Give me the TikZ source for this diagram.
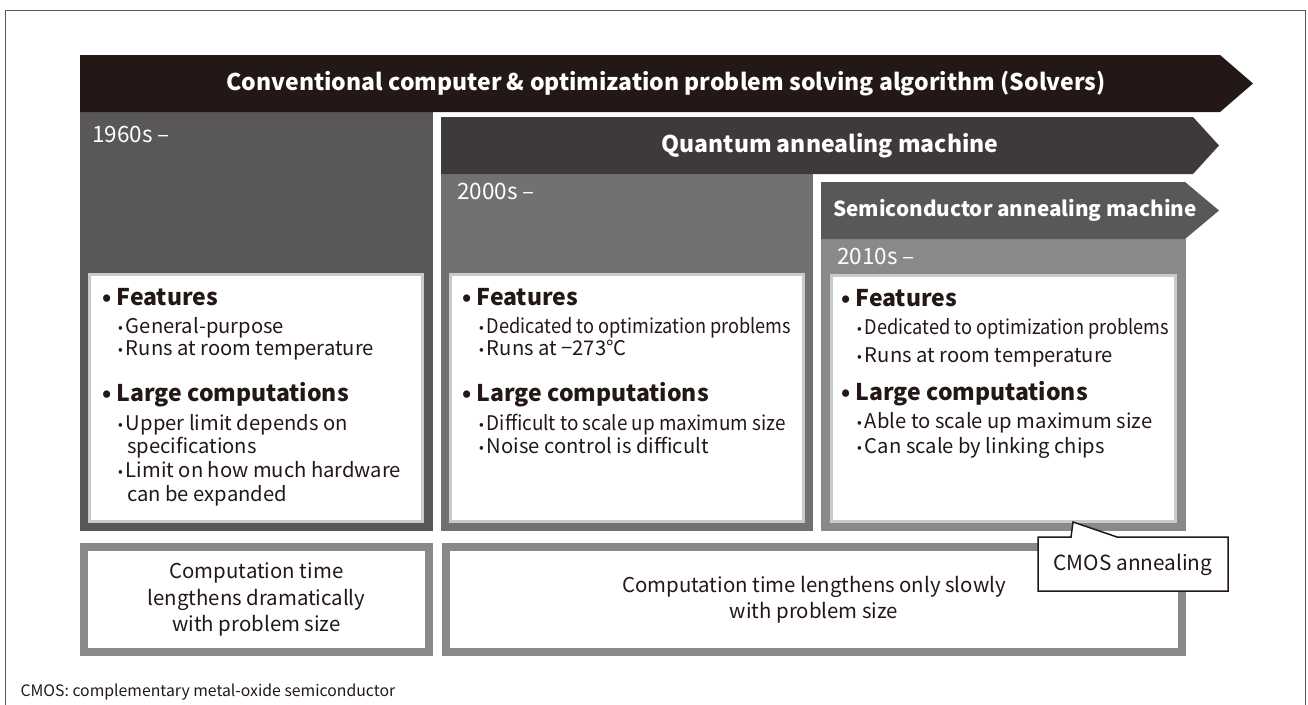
\documentclass[tikz,border=0pt]{standalone}
\usepackage{fontspec}
\setmainfont{Noto Sans CJK JP}
\usepackage{xcolor}
\usepackage{graphicx}
\usepackage{tikz}

\definecolor{inkblack}{HTML}{231815}
\definecolor{barquantum}{HTML}{3E3A39}
\definecolor{panelone}{HTML}{595757}
\definecolor{paneltwo}{HTML}{727171}
\definecolor{panelthree}{HTML}{898989}
\definecolor{boxrim}{HTML}{C9CACA}

\newcommand\dotmark{\raisebox{1pt}{\fontsize{14}{14}\selectfont•}\hspace{3pt}}
\newcommand\squeeze[2]{\scalebox{#1}[1]{#2}}

\begin{document}
\begin{tikzpicture}[x=1pt, y=-1pt, text=inkblack,
	bartitle/.style={text=white, font=\bfseries\fontsize{23}{23}\selectfont},
	year/.style={anchor=west, inner sep=0pt, text=white, font=\fontsize{22.5}{22.5}\selectfont},
	featbox/.style={draw=boxrim, line width=3pt, fill=white},
	timebox/.style={draw=panelthree, line width=8pt, fill=white, align=center, font=\fontsize{20.4}{26.5}\selectfont},
	head/.style={anchor=west, text height=18pt, text depth=4pt, inner sep=0pt, font=\bfseries\fontsize{23}{23}\selectfont},
	item/.style={anchor=west, text height=15pt, text depth=4pt, inner sep=0pt, font=\fontsize{20.2}{20.2}\selectfont}]
	\useasboundingbox (0,0) rectangle (1308,704);
	\draw[panelone, line width=1pt] (5,10) rectangle (1305,720);

	% panels
	\fill[panelone] (80,112) rectangle (433,531);
	\fill[paneltwo] (441,174) rectangle (813,531);
	\fill[panelthree] (821,239) rectangle (1186,531);

	% arrows
	\fill[inkblack] (80,55) -- (1220,55) -- (1253,83.5) -- (1220,112) -- (80,112) -- cycle;
	\fill[barquantum] (441,117) -- (1193,117) -- (1219,145.5) -- (1193,174) -- (441,174) -- cycle;
	\fill[panelone] (821,182) -- (1185,182) -- (1219,210.5) -- (1185,239) -- (821,239) -- cycle;
	\node[bartitle] (solvers) at (666,83.5) {Conventional computer \& optimization problem solving algorithm (Solvers)};
	\node[bartitle] (quantum) at (830,145.5) {Quantum annealing machine};
	\node[bartitle, font=\bfseries\fontsize{20.7}{20.7}\selectfont] (semi) at (1015,210.5) {Semiconductor annealing machine};

	\node[year] (y1960) at (92,134) {1960s –};
	\node[year] (y2000) at (457,191) {2000s –};
	\node[year] (y2010) at (837,256) {2010s –};

	% feature boxes
	\draw[featbox] (89.5,274.5) rectangle (422.5,521.5);
	\draw[featbox] (450.5,274.5) rectangle (803.5,521.5);
	\draw[featbox] (831.5,275.5) rectangle (1175.5,521.5);

	\node[head] (lfeat) at (102,298) {• Features};
	\node[item] (lf1) at (118,328) {\dotmark General-purpose};
	\node[item] (lf2) at (118,350) {\dotmark Runs at room temperature};
	\node[head] (llarge) at (102,394) {• Large computations};
	\node[item] (ll1) at (118,425) {\dotmark Upper limit depends on};
	\node[item] (ll1b) at (127,448) {specifications};
	\node[item] (ll2) at (118,472) {\dotmark Limit on how much hardware};
	\node[item] (ll2b) at (127,496) {can be expanded};

	\node[head] (qfeat) at (462,298) {• Features};
	\node[item] (qf1) at (479,328) {\dotmark\squeeze{0.9}{Dedicated to optimization problems}};
	\node[item] (qf2) at (479,350) {\dotmark Runs at −273°C};
	\node[head] (qlarge) at (462,394) {• Large computations};
	\node[item] (ql1) at (479,425) {\dotmark\squeeze{0.935}{Difficult to scale up maximum size}};
	\node[item] (ql2) at (479,448) {\dotmark Noise control is difficult};

	\node[head] (sfeat) at (841,299) {• Features};
	\node[item] (sf1) at (857,329) {\dotmark\squeeze{0.9}{Dedicated to optimization problems}};
	\node[item] (sf2) at (857,357) {\dotmark Runs at room temperature};
	\node[head] (slarge) at (841,393) {• Large computations};
	\node[item] (sl1) at (857,423) {\dotmark Able to scale up maximum size};
	\node[item] (sl2) at (857,448) {\dotmark Can scale by linking chips};

	% computation time
	\node[timebox, minimum width=345, minimum height=105] (timeold) at (256.5,599.5) {Computation time\\lengthens dramatically\\with problem size};
	\node[timebox, minimum width=736, minimum height=105] (timenew) at (814,599.5) {Computation time lengthens only slowly\\with problem size};

	% callout
	\filldraw[fill=white, draw=inkblack, line width=1.5pt] (1038,537) -- (1071,537) -- (1073,522) -- (1117,537) -- (1228,537) -- (1228,591) -- (1038,591) -- cycle;
	\node[font=\fontsize{20.8}{20.8}\selectfont] (cmos) at (1133,565) {CMOS annealing};

	\node[anchor=west, font=\fontsize{15.8}{15.8}\selectfont] (note) at (17,692) {CMOS: complementary metal-oxide semiconductor};
\end{tikzpicture}
\end{document}
